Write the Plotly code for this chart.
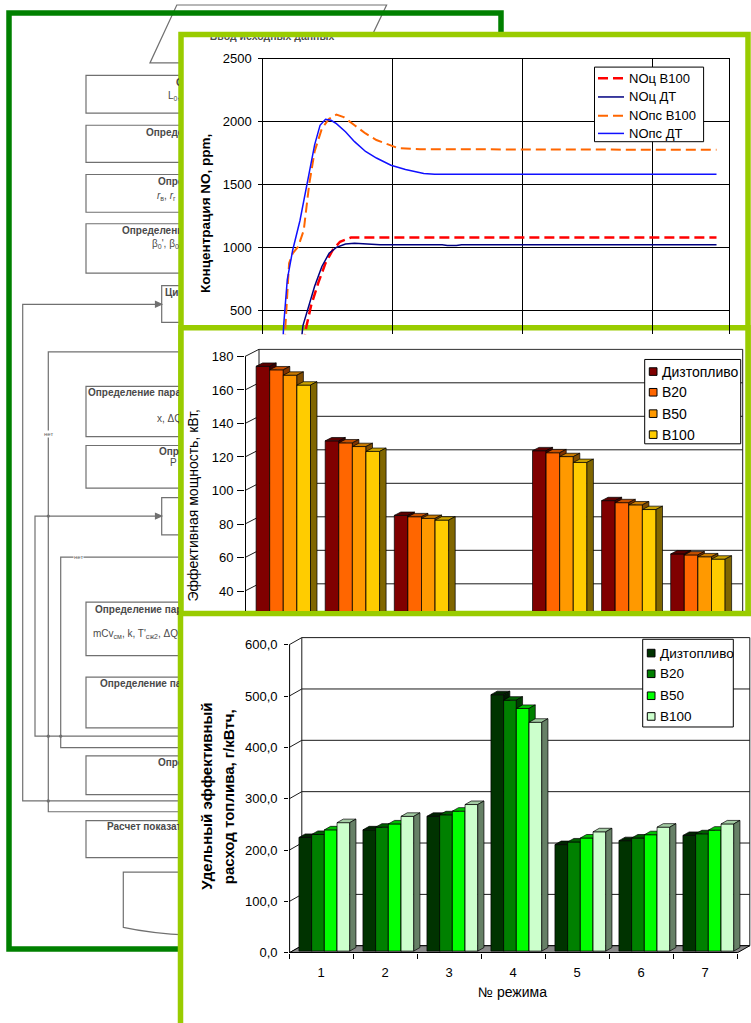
import plotly.graph_objects as go

W, H = 751, 1023
FONT = "Liberation Sans, Arial, sans-serif"

# ---------------- NO concentration vs crank angle (deg, ppm) ----------------
phi_c_b100 = [353.00, 353.14, 353.26, 353.68, 354.24, 354.80, 355.36, 355.92, 356.76, 384.97]
no_c_b100 = [0, 250, 344, 539, 721, 878, 982, 1047, 1081, 1081]

phi_c_dt = [352.78, 352.92, 353.06, 353.54, 353.96, 354.52, 355.08, 355.64, 356.34,
            357.04, 357.89, 359.01, 363.80, 364.20, 364.90, 365.30, 384.97]
no_c_dt = [0, 250, 383, 539, 695, 851, 956, 1003, 1029, 1036, 1031, 1023, 1023, 1018, 1018, 1023, 1023]

phi_ps_b100 = [351.60, 351.68, 351.71, 351.99, 352.27, 352.69, 353.12, 353.54, 353.96, 354.52,
               355.08, 355.64, 356.20, 357.04, 357.89, 358.73, 359.85, 360.41, 362.10, 384.97]
no_ps_b100 = [0, 200, 383, 878, 956, 1008, 1138, 1502, 1763, 1945,
              2023, 2055, 2036, 1971, 1906, 1854, 1810, 1789, 1781, 1776]

phi_ps_dt = [351.40, 351.46, 351.57, 351.85, 352.27, 352.83, 353.40, 353.96, 354.38, 354.80, 355.22,
             355.64, 356.34, 357.04, 357.89, 358.73, 359.85, 360.97, 362.38, 363.22, 384.97]
no_ps_dt = [0, 200, 383, 747, 982, 1216, 1529, 1815, 1971, 2018, 2010,
            1984, 1919, 1841, 1763, 1711, 1654, 1620, 1588, 1583, 1583]

no_ticks = [500, 1000, 1500, 2000, 2500]
no_names = ["NOц B100", "NOц ДТ", "NOпс B100", "NOпс ДТ"]

# ---------------- engine test modes ----------------
modes = [1, 2, 3, 4, 5, 6, 7]
fuels = ["Дизтопливо", "B20", "B50", "B100"]

power_dt = [173.0, 128.5, 84.0, 16.5, 122.6, 92.8, 61.0]
power_b20 = [170.9, 127.3, 83.2, 16.2, 121.4, 91.6, 60.4]
power_b50 = [167.7, 125.1, 82.2, 15.8, 119.1, 90.3, 59.3]
power_b100 = [161.8, 122.2, 81.2, 15.3, 115.6, 87.5, 57.9]
power_ticks = [40, 60, 80, 100, 120, 140, 160, 180]

sfc_dt = [221.3, 236.1, 262.4, 499.3, 207.4, 215.0, 225.2]
sfc_b20 = [227.1, 241.3, 265.4, 488.6, 212.5, 220.2, 228.4]
sfc_b50 = [236.1, 247.6, 272.5, 472.5, 220.2, 226.6, 235.5]
sfc_b100 = [250.1, 262.4, 285.4, 445.6, 232.3, 241.3, 247.6]
sfc_ticks = [0, 100, 200, 300, 400, 500, 600]

power = [power_dt, power_b20, power_b50, power_b100]
sfc = [sfc_dt, sfc_b20, sfc_b50, sfc_b100]


# ---------------- helpers (pixel layout -> paper) ----------------
def xp(x):
    return x / W


def yp(y):
    return 1 - y / H


def pth(pts, close=True):
    s = "M" + " L".join(f"{xp(x):.5f},{yp(y):.5f}" for x, y in pts)
    return s + (" Z" if close else "")


def label(x, y, text, size, xanchor="center", angle=0, color="black", **kw):
    return dict(xref="paper", yref="paper", x=xp(x), y=yp(y), text=text, showarrow=False,
                xanchor=xanchor, yanchor="middle", textangle=angle,
                font=dict(family=FONT, size=size, color=color), **kw)


fig = go.Figure()
shapes = []
annotations = []

# ---------------- flowchart in the background ----------------
FC = "#707070"


def fc_rect(x0, y0, x1, y1):
    shapes.append(dict(type="rect", xref="paper", yref="paper", x0=xp(x0), x1=xp(x1),
                       y0=yp(y1), y1=yp(y0), line=dict(color=FC, width=1.2),
                       fillcolor="white", layer="below"))


def fc_poly(pts, close=False, fill=None):
    d = dict(type="path", xref="paper", yref="paper", path=pth(pts, close),
             line=dict(color=FC, width=1.2), layer="below")
    if fill:
        d["fillcolor"] = fill
    shapes.append(d)


fc_poly([(150, 56.7), (176.8, -2), (386.6, -2), (359, 56.7)], close=True)
for box in [(86, 69.3, 320, 107.7), (86, 120, 320, 157.7), (86, 170, 320, 208.3),
            (86, 220, 320, 270), (161.7, 282.7, 280, 320), (86, 385, 320, 436),
            (86, 445, 320, 488.3), (161.7, 498, 280, 535.7), (86, 604, 320, 658.3),
            (86, 680, 320, 731.7), (86, 760, 320, 799.3), (86, 825.7, 320, 863.3)]:
    fc_rect(*box)
shapes.append(dict(type="path", xref="paper", yref="paper",
                   path=(f"M{xp(123.3):.5f},{yp(878):.5f} L{xp(400):.5f},{yp(878):.5f} "
                         f"L{xp(400):.5f},{yp(925):.5f} Q{xp(290):.5f},{yp(948):.5f} {xp(190):.5f},{yp(942):.5f} "
                         f"Q{xp(150):.5f},{yp(940):.5f} {xp(123.3):.5f},{yp(934):.5f} Z"),
                   line=dict(color=FC, width=1.2), fillcolor="white", layer="below"))

# connector lines
fc_poly([(161.7, 301.7), (22.7, 301.7), (22.7, 805.7), (320, 805.7)])
fc_poly([(320, 350), (48.3, 350), (48.3, 816.7), (320, 816.7)])
fc_poly([(161.7, 516.7), (35, 516.7), (35, 740), (320, 740)])
fc_poly([(320, 558.3), (60.7, 558.3), (60.7, 751.7), (320, 751.7)])
for ay in (301.7, 516.7):
    fc_poly([(161.7, ay), (155.5, ay - 2.8), (155.5, ay + 2.8)], close=True, fill=FC)
for cx, cy in [(48.3, 516.7), (48.3, 740), (60.7, 740), (48.3, 805.7)]:
    shapes.append(dict(type="circle", xref="paper", yref="paper", x0=xp(cx - 1.6), x1=xp(cx + 1.6),
                       y0=yp(cy + 1.6), y1=yp(cy - 1.6), line=dict(width=0), fillcolor=FC, layer="below"))
for tx, ty in [(48.3, 433), (78, 558.3)]:
    annotations.append(label(tx, ty, "нет", 6, color="#606060", bgcolor="white", borderpad=0))

# outer frame of the flowchart
shapes.append(dict(type="rect", xref="paper", yref="paper", x0=xp(9), x1=xp(501), y0=yp(956), y1=yp(6),
                   line=dict(color="#008000", width=5.5), layer="below"))

# ---------------- chart panels ----------------
PANEL = "#99CC00"
for x0, y0, x1, y1 in [(181, 28, 748, 700), (181, 325.5, 748, 900), (180.5, 615.5, 790, 1060)]:
    shapes.append(dict(type="rect", xref="paper", yref="paper", x0=xp(x0), x1=xp(x1), y0=yp(y1), y1=yp(y0),
                       line=dict(color=PANEL, width=5.5), fillcolor="white", layer="below"))

# ---------------- top chart: NO concentration ----------------
no_styles = [dict(color="#FF0000", width=2.5, dash="10px,5px"),
             dict(color="#000080", width=1.5),
             dict(color="#FF6600", width=2, dash="10px,5px"),
             dict(color="#1010FF", width=1.5)]
for (px_, py_), name, st in zip([(phi_c_b100, no_c_b100), (phi_c_dt, no_c_dt),
                                 (phi_ps_b100, no_ps_b100), (phi_ps_dt, no_ps_dt)], no_names, no_styles):
    fig.add_trace(go.Scatter(x=px_, y=py_, mode="lines", name=name, line=st,
                             xaxis="x", yaxis="y", hoverinfo="skip"))


# ---------------- 3D clustered columns ----------------
def add_3d_bars(xa, ya, series, fronts, tops, sides, gridvals, g, floor_color=None):
    n = len(modes)
    xbl = 0.5 + g["wdx"]
    xbr = n + 0.5 + g["wdx"]
    top = gridvals[-1]
    xs, ys = [], []
    for v in gridvals:
        xs += [0.5, xbl, xbr, None]
        ys += [v, v + g["wdy"], v + g["wdy"], None]
    xs += [xbl, xbl, None, xbr, xbr, None]
    ys += [g["wdy"], top + g["wdy"], None, g["wdy"], top + g["wdy"], None]
    fig.add_trace(go.Scatter(x=xs, y=ys, mode="lines", line=dict(color="#1a1a1a", width=1),
                             xaxis=xa, yaxis=ya, hoverinfo="skip"))
    if floor_color:
        fig.add_trace(go.Scatter(x=[0.5, n + 0.5, xbr, xbl, 0.5], y=[0, 0, g["wdy"], g["wdy"], 0],
                                 mode="lines", fill="toself", fillcolor=floor_color,
                                 line=dict(color="black", width=1), xaxis=xa, yaxis=ya, hoverinfo="skip"))
    bw, bdx, bdy = g["bw"], g["bdx"], g["bdy"]
    for s, vals in enumerate(series):
        fx, fy, tx, ty, sx, sy = [], [], [], [], [], []
        for c, v in zip(modes, vals):
            xl = c - 2 * bw + s * bw + g["ox"]
            xr = xl + bw
            yb = g["oy"]
            yt = v + g["oy"]
            fx += [xl, xr, xr, xl, xl, None]
            fy += [yb, yb, yt, yt, yb, None]
            tx += [xl, xr, xr + bdx, xl + bdx, xl, None]
            ty += [yt, yt, yt + bdy, yt + bdy, yt, None]
            sx += [xr, xr + bdx, xr + bdx, xr, xr, None]
            sy += [yb, yb + bdy, yt + bdy, yt, yb, None]
        for X, Y, col in ((fx, fy, fronts[s]), (tx, ty, tops[s]), (sx, sy, sides[s])):
            fig.add_trace(go.Scatter(x=X, y=Y, mode="lines", fill="toself", fillcolor=col,
                                     line=dict(color="black", width=0.7), xaxis=xa, yaxis=ya,
                                     hoverinfo="skip"))
    fig.add_trace(go.Scatter(x=[0.5, 0.5], y=[0, top], mode="lines", line=dict(color="black", width=2),
                             xaxis=xa, yaxis=ya, hoverinfo="skip"))
    if floor_color:
        fig.add_trace(go.Scatter(x=[0.5, n + 0.5], y=[0, 0], mode="lines", line=dict(color="black", width=2),
                                 xaxis=xa, yaxis=ya, hoverinfo="skip"))


pow_front = ["#800000", "#FF6600", "#FF9900", "#FFCC00"]
pow_top = ["#5C0000", "#C44F00", "#C97A00", "#CCA300"]
pow_side = ["#400000", "#803300", "#804C00", "#806600"]
sfc_front = ["#003300", "#008000", "#00FF00", "#CCFFCC"]
sfc_top = ["#002400", "#006000", "#00C000", "#A3CCA3"]
sfc_side = ["#001A00", "#004000", "#008000", "#668066"]

# pixel scales of the two column charts
M_X0, M_PPC, M_Y0, M_PPV = 245.0, 69.1, 660.7, 1.7
B_X0, B_PPC, B_Y0, B_PPV = 289.1, 64.0, 960.0, 312.7 / 600

mid_geo = dict(bw=13.6 / M_PPC, ox=3.75 / M_PPC, oy=1.95 / M_PPV, bdx=6.5 / M_PPC, bdy=3.4 / M_PPV,
               wdx=14 / M_PPC, wdy=7.3 / M_PPV)
bot_geo = dict(bw=12.7 / B_PPC, ox=3.25 / B_PPC, oy=1.87 / B_PPV, bdx=6.2 / B_PPC, bdy=3.56 / B_PPV,
               wdx=12.7 / B_PPC, wdy=7.3 / B_PPV)

add_3d_bars("x2", "y2", power, pow_front, pow_top, pow_side, [0, 20] + power_ticks, mid_geo)
add_3d_bars("x3", "y3", sfc, sfc_front, sfc_top, sfc_side, sfc_ticks, bot_geo, floor_color="#8A8A8A")

# ---------------- flowchart labels (clipped by the panels' edge) ----------------
flow_text = [
    (176, 78, "<b>Определение</b>"), (168, 91, "L<sub>0</sub>, M<sub>0</sub>"),
    (146, 128, "<b>Определение параметров</b>"),
    (158, 178, "<b>Определение</b>"), (157, 192, "<i>r</i><sub>в</sub>, <i>r</i><sub>г</sub>"),
    (122, 228, "<b>Определение параметров</b>"), (152, 241, "β<sub>0</sub>', β<sub>0</sub>"),
    (165, 291, "<b>Цикл</b>"),
    (88, 392, "<b>Определение параметров</b>"), (157, 419, "x, ΔQ"),
    (159, 452, "<b>Определение</b>"), (170, 463, "P"),
    (95, 612, "<b>Определение параметров</b>"),
    (93, 637, "mCv<sub>см</sub>, k, T'<sub>сж2</sub>, ΔQ"),
    (100, 688, "<b>Определение параметров</b>"),
    (158, 768, "<b>Определение</b>"),
    (107, 833, "<b>Расчет показателей</b>"),
]
fig.add_trace(go.Scatter(x=[t[0] for t in flow_text], y=[t[1] for t in flow_text],
                         text=[t[2] for t in flow_text], mode="text", textposition="middle right",
                         textfont=dict(family=FONT, size=10, color="#4a4a4a"), cliponaxis=True,
                         xaxis="x4", yaxis="y4", hoverinfo="skip"))
fig.add_trace(go.Scatter(x=[272], y=[30.5], text=["<b>Ввод исходных данных</b>"], mode="text",
                         textposition="middle center", textfont=dict(family=FONT, size=10.5, color="#4a4a4a"),
                         cliponaxis=True, xaxis="x5", yaxis="y5", hoverinfo="skip"))

# ---------------- legends ----------------
def legend_box(x0, y0, x1, y1):
    shapes.append(dict(type="rect", xref="paper", yref="paper", x0=xp(x0), x1=xp(x1), y0=yp(y1), y1=yp(y0),
                       line=dict(color="black", width=1), fillcolor="white", layer="above"))


legend_box(594.5, 61, 703.6, 136.7)
for row, name, st in zip([72.3, 91.3, 110.3, 128.3], no_names, no_styles):
    shapes.append(dict(type="line", xref="paper", yref="paper", x0=xp(598), x1=xp(624), y0=yp(row), y1=yp(row),
                       line=dict(color=st["color"], width=st["width"], dash=st.get("dash", "solid")),
                       layer="above"))
    annotations.append(label(627, row, name, 13, xanchor="left"))


def bar_legend(box, rows, sq_x, txt_x, colors, size):
    legend_box(*box)
    for row, name, col in zip(rows, fuels, colors):
        shapes.append(dict(type="rect", xref="paper", yref="paper", x0=xp(sq_x), x1=xp(sq_x + 7.7),
                           y0=yp(row + 3.85), y1=yp(row - 3.85), line=dict(color="black", width=1),
                           fillcolor=col, layer="above"))
        annotations.append(label(txt_x, row, name, size, xanchor="left"))


bar_legend((644.7, 357.7, 740.7, 443.3), [370, 391, 412.7, 434], 649.3, 660, pow_front, 14)
bar_legend((642.7, 641.7, 733.3, 730.7), [655.7, 676.7, 699, 720], 647.3, 657.8, sfc_front, 13.5)

# ---------------- axis titles ----------------
annotations += [
    label(206, 210, "<b>Концентрация NO, ppm,</b>", 13.5, angle=-90),
    label(193.5, 505.5, "Эффективная мощность, кВт,", 14, angle=-90),
    label(207, 801.5, "<b>Удельный эффективный</b>", 15, angle=-90),
    label(228.5, 801.5, "<b>расход топлива, г/кВтч,</b>", 15, angle=-90),
    label(512.7, 1000, "№ режима", 14),
]

# ---------------- axes ----------------
TOP_L, TOP_R, TOP_T, TOP_B = 263.3, 729.2, 52.3, 332.0
top_ppu = 64 / 500
top_ppd = 12.96

tick_font = dict(family=FONT, size=13, color="black")
hidden = dict(visible=False, showgrid=False, zeroline=False)

fig.update_layout(
    width=W, height=H, margin=dict(l=0, r=0, t=0, b=0),
    paper_bgcolor="white", plot_bgcolor="rgba(0,0,0,0)",
    showlegend=False, hovermode=False,
    shapes=shapes, annotations=annotations,
    xaxis=dict(domain=[xp(TOP_L), xp(TOP_R)], range=[350, 350 + (TOP_R - TOP_L) / top_ppd],
               side="top", anchor="y", showline=True, linecolor="black", linewidth=1,
               showgrid=True, gridcolor="black", gridwidth=1, tickvals=[350, 360, 370, 380],
               showticklabels=False, ticks="", zeroline=False),
    yaxis=dict(domain=[yp(TOP_B), yp(TOP_T)], range=[2500 - (TOP_B - TOP_T) / top_ppu, 2500],
               anchor="x", showline=True, mirror=True, linecolor="black", linewidth=1,
               showgrid=True, gridcolor="black", gridwidth=1, tickvals=no_ticks,
               ticks="outside", ticklen=4, tickcolor="black", tickfont=tick_font,
               ticklabelstandoff=4, zeroline=False),
    xaxis2=dict(domain=[xp(M_X0), xp(745.5)], range=[0.5, 0.5 + (745.5 - M_X0) / M_PPC],
                anchor="y2", **hidden),
    yaxis2=dict(domain=[yp(613), yp(346.5)], range=[(M_Y0 - 613) / M_PPV, (M_Y0 - 346.5) / M_PPV],
                anchor="x2", showgrid=False, zeroline=False, showline=False, tickvals=power_ticks,
                ticks="outside", ticklen=7, tickcolor="black", tickfont=tick_font, ticklabelstandoff=1),
    xaxis3=dict(domain=[xp(B_X0), xp(751)], range=[0.5, 0.5 + (751 - B_X0) / B_PPC],
                anchor="y3", showgrid=False, zeroline=False, showline=False,
                tickvals=modes, ticktext=[str(m) for m in modes], tickfont=tick_font,
                ticks="outside", ticklen=7, tickcolor="rgba(0,0,0,0)",
                minor=dict(tickvals=[m - 0.5 for m in modes] + [modes[-1] + 0.5], ticks="outside",
                           ticklen=5, tickcolor="black", tickwidth=1, showgrid=False)),
    yaxis3=dict(domain=[yp(B_Y0), yp(639)], range=[0, (B_Y0 - 639) / B_PPV],
                anchor="x3", showgrid=False, zeroline=False, showline=False, tickvals=sfc_ticks,
                ticktext=[f"{v:.1f}".replace(".", ",") for v in sfc_ticks],
                ticks="outside", ticklen=4, tickcolor="black", tickfont=tick_font, ticklabelstandoff=4),
    xaxis4=dict(domain=[0, xp(179)], range=[0, 179], anchor="y4", **hidden),
    yaxis4=dict(domain=[0, 1], range=[H, 0], anchor="x4", **hidden),
    xaxis5=dict(domain=[xp(195), xp(360)], range=[195, 360], anchor="y5", **hidden),
    yaxis5=dict(domain=[yp(40), yp(30.8)], range=[40, 30.8], anchor="x5", **hidden),
)

fig.write_html("out.html")
